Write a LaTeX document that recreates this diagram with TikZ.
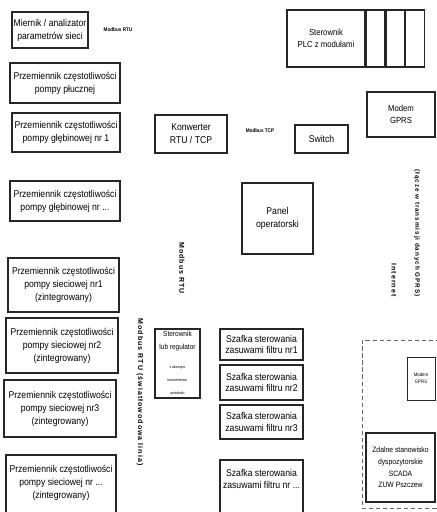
\documentclass[tikz,border=0pt]{standalone}
\usepackage{fontspec}
\setmainfont{Liberation Sans}[FakeStretch=0.88]
\newfontfamily\busfamily{Liberation Sans Bold}[LetterSpace=15]
\usetikzlibrary{positioning}

\newcommand{\mainsize}{\fontsize{14}{18.5}\selectfont}
\newcommand{\midsize}{\fontsize{12.5}{16.5}\selectfont}
\newcommand{\regsize}{\fontsize{10.5}{14}\selectfont}
\newcommand{\tinysize}{\fontsize{5.5}{8.5}\selectfont}

\tikzset{
    box/.style={draw=black!85, line width=1.8pt, align=center, inner sep=1pt, font=\mainsize},
    slot/.style={draw=black!85, line width=1.8pt, minimum width=9.25mm, minimum height=28.5mm},
    remote/.style={draw=black!60, line width=1.1pt, dash pattern=on 6pt off 4pt},
    buslabel/.style={font=\busfamily\fontsize{10}{11}\selectfont, rotate=-90},
    netlabel/.style={font=\bfseries\fontsize{7.5}{9}\selectfont}
}

\begin{document}
\begin{tikzpicture}[x=0.5mm, y=-0.5mm]
    \path[use as bounding box, fill=white] (0, 0) rectangle (437, 512);

    \node[box, minimum width=38mm, minimum height=18mm] (miernik) at (50, 30) {Miernik / analizator\\parametrów sieci};
    \node[box, minimum width=55mm, minimum height=20mm] (plucz) at (65, 83) {Przemiennik częstotliwości\\pompy płucznej};
    \node[box, minimum width=54mm, minimum height=19.5mm] (gleb1) at (66, 132.5) {Przemiennik częstotliwości\\pompy głębinowej nr 1};
    \node[box, minimum width=55mm, minimum height=20mm] (glebn) at (65, 201) {Przemiennik częstotliwości\\pompy głębinowej nr ...};
    \node[box, minimum width=55.5mm, minimum height=27mm] (siec1) at (63.5, 285) {Przemiennik częstotliwości\\pompy sieciowej nr1\\(zintegrowany)};
    \node[box, minimum width=56mm, minimum height=27.5mm] (siec2) at (62, 345.5) {Przemiennik częstotliwości\\pompy sieciowej nr2\\(zintegrowany)};
    \node[box, minimum width=56mm, minimum height=28.5mm] (siec3) at (60, 408.5) {Przemiennik częstotliwości\\pompy sieciowej nr3\\(zintegrowany)};
    \node[box, minimum width=55mm, minimum height=33.5mm] (siecn) at (61, 488.5) {Przemiennik częstotliwości\\pompy sieciowej nr ...\\(zintegrowany)\\ ~};

    \node[box, minimum width=36mm, minimum height=19mm] (konw) at (191, 134) {Konwerter\\RTU / TCP};
    \node[box, font=\midsize, minimum width=39mm, minimum height=28.5mm] (plc) at (326, 38.5) {Sterownik\\PLC z modułami};
    \node[slot, right=0pt of plc] (mod1) {};
    \node[slot, right=0pt of mod1] (mod2) {};
    \node[slot, right=0pt of mod2] (mod3) {};
    \node[box, font=\midsize, minimum width=34mm, minimum height=22.5mm] (modem) at (401, 114.5) {Modem\\GPRS};
    \node[box, minimum width=26.5mm, minimum height=14mm] (switch) at (321.5, 139) {Switch};
    \node[box, minimum width=35.5mm, minimum height=35.5mm] (panel) at (277.5, 218.5) {Panel\\operatorski};

    \node[box, minimum width=22.5mm, minimum height=34.5mm] (regul) at (177.5, 363.5)
        {\regsize Sterownik\\\regsize lub regulator\\[8pt]\tinysize z własnym\\\tinysize konwerterem\\\tinysize protokołu};
    \node[box, font=\fontsize{14}{17}\selectfont, minimum width=41.5mm, minimum height=15.5mm] (szaf1) at (261.5, 344.5) {Szafka sterowania\\zasuwami filtru nr1};
    \node[box, font=\fontsize{14}{17}\selectfont, minimum width=41.5mm, minimum height=17.5mm] (szaf2) at (261.5, 382.5) {Szafka sterowania\\zasuwami filtru nr2};
    \node[box, font=\fontsize{14}{17}\selectfont, minimum width=41.5mm, minimum height=17mm] (szaf3) at (261.5, 422) {Szafka sterowania\\zasuwami filtru nr3};
    \node[box, font=\fontsize{14}{17}\selectfont, minimum width=41.5mm, minimum height=31mm] (szafn) at (261.5, 491) {Szafka sterowania\\zasuwami filtru nr ...\\ ~\\ ~};

    \node[remote, minimum width=39mm, minimum height=84mm] (zdalne) at (401, 424) {};
    \node[box, font=\fontsize{7}{10}\selectfont, line width=1.4pt, minimum width=14mm, minimum height=21.5mm] (modem2) at (421, 378.5) {Modem\\GPRS};
    \node[box, font=\fontsize{11}{16.5}\selectfont, minimum width=34.5mm, minimum height=34.5mm] (scada) at (400.5, 467.5) {Zdalne stanowisko\\dyspozytorskie\\SCADA\\ZUW Pszczew};

    \node[netlabel] (rtu) at (118, 30) {Modbus RTU};
    \node[netlabel] (tcp) at (260, 131) {Modbus TCP};
    \node[buslabel] (busl) at (140, 392) {Modbus RTU (światłowodowa linia)};
    \node[buslabel] (busr) at (182, 268) {Modbus RTU};
    \node[buslabel] (inet) at (394, 280) {Internet};
    \node[buslabel, font=\busfamily\fontsize{9}{10}\selectfont] (gprs) at (417, 233) {(łącze w transmisji danych GPRS)};
\end{tikzpicture}
\end{document}
